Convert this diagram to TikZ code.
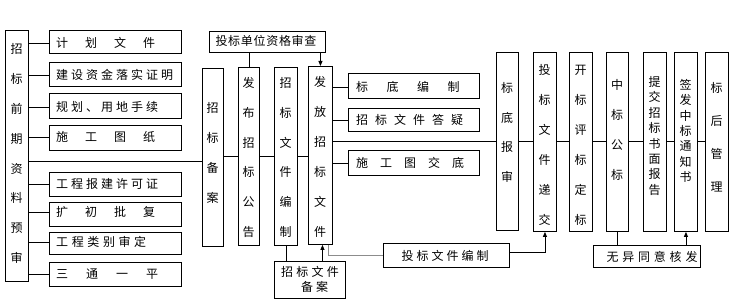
\documentclass[tikz,border=0pt]{standalone}
\usepackage{fontspec}
\setmainfont{Noto Sans CJK SC}
\usetikzlibrary{arrows.meta}
\makeatletter
\newcommand\spaced[2]{\def\myspgap{#1}\let\myspsep\relax\@tfor\myspc:=#2\do{\myspsep\myspc\def\myspsep{\hspace{\myspgap pt}}}}
\makeatother
\begin{document}
\begin{tikzpicture}[x=1pt,y=-1pt,
  box/.style={draw=black, line width=0.9pt, fill=white, inner sep=0pt, anchor=north west},
  txt/.style={inner sep=0pt, font=\fontsize{12}{14}\selectfont},
  ltxt/.style={txt, anchor=west},
  vtxt/.style={inner sep=0pt, align=center, font=\fontsize{12}{#1}\selectfont},
  ln/.style={line width=0.9pt, draw=black},
  arr/.style={ln, -{Triangle[length=5pt,width=4pt]}}]
\useasboundingbox (0,0) rectangle (734,307);
% left column
\node[box, minimum width=23pt, minimum height=251pt] (L0) at (5,30) {};
\node[vtxt=29.9] at (16.5,153.5) {招\\标\\前\\期\\资\\料\\预\\审};
\node[box, minimum width=132pt, minimum height=23pt] (R1) at (49,30) {};
\node[box, minimum width=132pt, minimum height=24pt] (R2) at (49,62) {};
\node[box, minimum width=132pt, minimum height=25pt] (R3) at (49,93) {};
\node[box, minimum width=132pt, minimum height=25pt] (R4) at (49,125) {};
\node[box, minimum width=132pt, minimum height=24pt] (R5) at (49,172) {};
\node[box, minimum width=132pt, minimum height=24pt] (R6) at (49,202) {};
\node[box, minimum width=132pt, minimum height=22pt] (R7) at (49,232) {};
\node[box, minimum width=132pt, minimum height=24pt] (R8) at (49,262) {};
\node[ltxt] (T1) at (56,43) {\spaced{17}{计划文件}};
\node[ltxt] (T2) at (56,75) {\spaced{3}{建设资金落实证明}};
\node[ltxt] (T3) at (56,107) {\spaced{3}{规划、用地手续}};
\node[ltxt] (T4) at (56,137) {\spaced{17}{施工图纸}};
\node[ltxt] (T5) at (56,184) {\spaced{3}{工程报建许可证}};
\node[ltxt] (T6) at (56,212) {\spaced{17}{扩初批复}};
\node[ltxt] (T7) at (56,242) {\spaced{3.6}{工程类别审定}};
\node[ltxt] (T8) at (56,274) {\spaced{18}{三通一平}};
\foreach \i in {1,...,8} {\draw[ln] (L0.east |- T\i) -- (R\i.west |- T\i);}
% middle columns
\node[box, minimum width=21pt, minimum height=178pt] (A) at (202,68) {};
\node[vtxt=29.9] at (212.5,153) {招\\标\\备\\案};
\node[box, minimum width=21pt, minimum height=178pt] (B) at (238,67) {};
\node[vtxt=29.8] at (248.5,157.5) {发\\布\\招\\标\\公\\告};
\node[box, minimum width=23pt, minimum height=178pt] (C) at (274,67) {};
\node[vtxt=29.8] at (285.5,157.5) {招\\标\\文\\件\\编\\制};
\node[box, minimum width=24pt, minimum height=178pt] (D) at (308,66) {};
\node[vtxt=30] at (320,157) {发\\放\\招\\标\\文\\件};
\node[box, minimum width=116pt, minimum height=21pt] (Q) at (209,31) {};
\node[txt] at (266,41) {\spaced{0.7}{投标单位资格审查}};
\coordinate (Ain) at ([yshift=-4pt]A.west);
\draw[ln] (L0.east |- Ain) -- (Ain);
\draw[ln] (A.east |- B.west) -- (B.west);
\draw[ln] (B.east) -- (C.west |- B.east);
\draw[ln] (C.east) -- (D.west |- C.east);
\draw[ln] (Q.south -| B.north) -- (B.north);
\draw[arr] (Q.south -| D.north) -- (D.north);
% E boxes
\node[box, minimum width=131pt, minimum height=25pt] (E1) at (348,73) {};
\node[box, minimum width=131pt, minimum height=23pt] (E2) at (348,108) {};
\node[box, minimum width=131pt, minimum height=25pt] (E3) at (348,150) {};
\node[ltxt] (U1) at (356,87) {\spaced{18.5}{标底编制}};
\node[ltxt] (U2) at (356,120) {\spaced{7}{招标文件答疑}};
\node[ltxt] (U3) at (356,163) {\spaced{12}{施工图交底}};
\foreach \i in {1,2,3} {\draw[ln] (D.east |- U\i) -- (E\i.west |- U\i);}
% right columns
\node[box, minimum width=22pt, minimum height=178pt] (F) at (496,52) {};
\node[vtxt=29.7] at (507,132.5) {标\\底\\报\\审};
\node[box, minimum width=23pt, minimum height=179pt] (G) at (533,52) {};
\node[vtxt=30] at (544.5,145) {投\\标\\文\\件\\递\\交};
\node[box, minimum width=23pt, minimum height=179pt] (H) at (569,52) {};
\node[vtxt=30] at (580.5,145) {开\\标\\评\\标\\定\\标};
\node[box, minimum width=22pt, minimum height=179pt] (I) at (606,52) {};
\node[vtxt=30] at (617,130) {中\\标\\公\\标};
\node[box, minimum width=23pt, minimum height=179pt] (J) at (643,52) {};
\node[vtxt=15.4] at (654.5,136) {提\\交\\招\\标\\书\\面\\报\\告};
\node[box, minimum width=23pt, minimum height=179pt] (K) at (674,52) {};
\node[vtxt=15.3] at (685.5,131) {签\\发\\中\\标\\通\\知\\书};
\node[box, minimum width=23pt, minimum height=179pt] (M) at (705,52) {};
\node[vtxt=33] at (716.5,137.5) {标\\后\\管\\理};
\draw[ln] (D.east |- F.west) -- (F.west);
\draw[ln] (F.east) -- (G.west |- F.east);
\draw[ln] (G.east) -- (H.west |- G.east);
\draw[ln] (H.east) -- (I.west |- H.east);
\draw[ln] (I.east) -- (J.west |- I.east);
\draw[ln] (J.east) -- (K.west |- J.east);
\draw[ln] (K.east) -- (M.west |- K.east);
% bottom boxes
\node[box, minimum width=126pt, minimum height=24pt] (P) at (383,243) {};
\node[txt] at (445,256) {\spaced{3}{投标文件编制}};
\node[box, minimum width=71pt, minimum height=37pt] (N) at (274,261) {};
\node[vtxt=15] at (310,279.5) {\spaced{3.3}{招标文件}\\\hspace{9pt}\spaced{3}{备案}};
\node[box, minimum width=107pt, minimum height=22pt] (O) at (593,245) {};
\node[txt] at (652,257) {\spaced{3.8}{无异同意核发}};
\draw[ln] (C.south) -- (C.south |- N.north);
\coordinate (Din) at ([xshift=2pt]D.south);
\draw[arr] (Din |- N.north) -- (Din);
\coordinate (Dout) at ([xshift=8pt]D.south);
\draw[ln, draw=black!45] (Dout) |- (P.west);
\draw[arr] ([yshift=3pt]P.east) -| (G.south);
\draw[ln] (I.south) -- (I.south |- O.north);
\draw[arr] (O.north -| K.south) -- (K.south);
\end{tikzpicture}
\end{document}
